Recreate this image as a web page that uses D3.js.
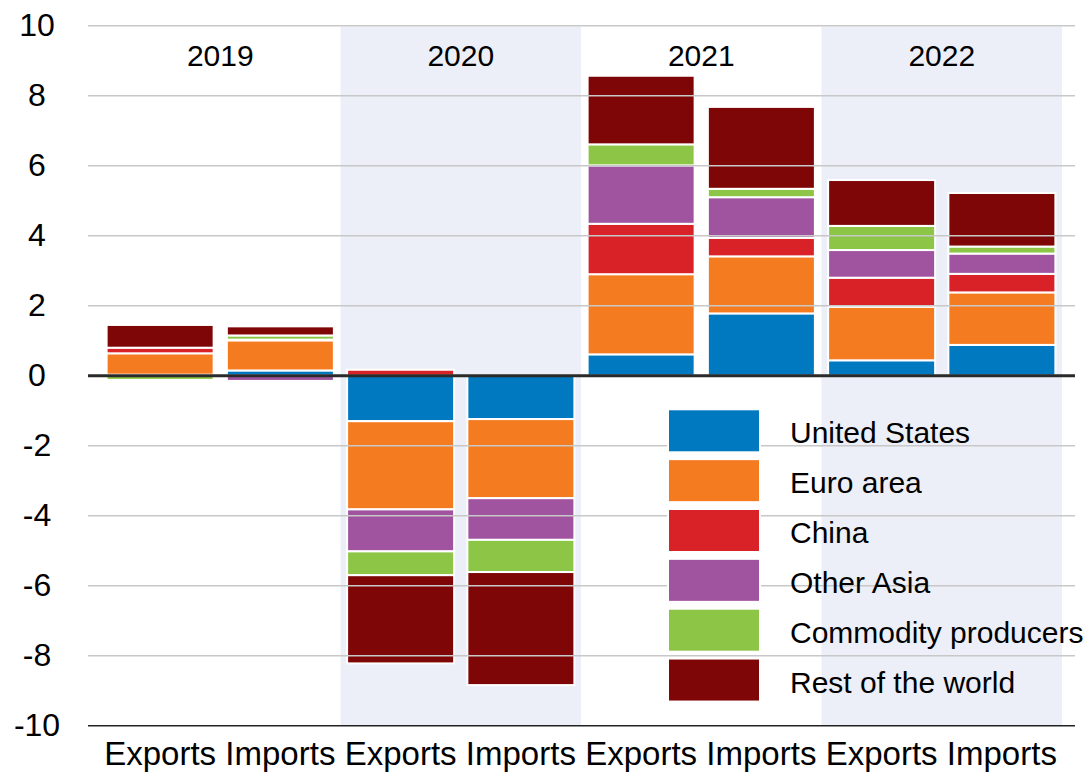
<!DOCTYPE html>
<html>
<head>
<meta charset="utf-8">
<script src="https://cdn.jsdelivr.net/npm/d3@7"></script>
<style>
  html, body { margin: 0; padding: 0; background: #fff; }
  svg { display: block; font-family: "Liberation Sans", Arial, sans-serif; }
</style>
</head>
<body>
<svg id="chart" width="1089" height="773"></svg>
<script>
// ---- data ----
const years = ["2019", "2020", "2021", "2022"];
const flows = ["Exports", "Imports"];
const seriesNames = ["United States", "Euro area", "China", "Other Asia", "Commodity producers", "Rest of the world"];
const seriesColors = ["#0079C1", "#F47B20", "#D92128", "#A0539E", "#8DC646", "#7E0606"];
// order of bars: 2019 Exp, 2019 Imp, 2020 Exp, 2020 Imp, 2021 Exp, 2021 Imp, 2022 Exp, 2022 Imp
const unitedStates = [0.03, 0.15, -1.30, -1.24, 0.61, 1.78, 0.44, 0.88];
const euroArea     = [0.61, 0.86, -2.52, -2.26, 2.29, 1.63, 1.53, 1.50];
const china        = [0.16, 0.02, 0.17, 0.00, 1.44, 0.53, 0.83, 0.53];
const otherAsia    = [0.00, -0.15, -1.20, -1.19, 1.67, 1.16, 0.79, 0.58];
const commodity    = [-0.12, 0.12, -0.68, -0.92, 0.60, 0.24, 0.69, 0.20];
const restOfWorld  = [0.65, 0.26, -2.52, -3.23, 1.96, 2.34, 1.31, 1.53];
const yTicks = [10, 8, 6, 4, 2, 0, -2, -4, -6, -8, -10];

// ---- build table ----
const seriesValues = [unitedStates, euroArea, china, otherAsia, commodity, restOfWorld];
const barKeys = [];
years.forEach(y => flows.forEach(f => barKeys.push(y + "|" + f)));
const table = barKeys.map((k, i) => {
  const row = { key: k };
  seriesNames.forEach((s, j) => row[s] = seriesValues[j][i]);
  return row;
});

const svg = d3.select("#chart");
const plotLeft = 100, plotRight = 1062;
const gridLeft = 88, gridRight = 1075;

const x = d3.scaleBand().domain(barKeys).range([plotLeft, plotRight])
  .paddingInner(0.11).paddingOuter(0.055);
const xYear = d3.scaleBand().domain(years).range([plotLeft, plotRight]);
const y = d3.scaleLinear().domain([-10, 10]).range([725.7, 25.7]);
const color = d3.scaleOrdinal().domain(seriesNames).range(seriesColors);

// shaded year bands (2020, 2022)
svg.append("g").selectAll("rect")
  .data(years.filter((d, i) => i % 2 === 1))
  .join("rect")
  .attr("x", d => xYear(d))
  .attr("width", xYear.bandwidth())
  .attr("y", y(10) + 1)
  .attr("height", y(-10) - y(10) - 1)
  .attr("fill", "#ECEFF7");

// stacked bars
const stack = d3.stack().keys(seriesNames).offset(d3.stackOffsetDiverging);
const stacked = stack(table);
svg.append("g").selectAll("g")
  .data(stacked)
  .join("g")
  .attr("fill", d => color(d.key))
  .selectAll("rect")
  .data(d => d.filter(p => p[1] - p[0] !== 0))
  .join("rect")
  .attr("x", d => x(d.data.key))
  .attr("width", x.bandwidth())
  .attr("y", d => y(Math.max(d[0], d[1])))
  .attr("height", d => Math.abs(y(d[0]) - y(d[1])))
  .attr("stroke", "#fff")
  .attr("stroke-width", 2);

// gridlines (drawn over bars)
svg.append("g").selectAll("line")
  .data(yTicks.filter(t => t !== 0 && t !== -10))
  .join("line")
  .attr("x1", gridLeft).attr("x2", gridRight)
  .attr("y1", d => y(d)).attr("y2", d => y(d))
  .attr("stroke", "#c8c8c8").attr("stroke-width", 1.5);

// bottom axis line
svg.append("line")
  .attr("x1", gridLeft).attr("x2", gridRight)
  .attr("y1", y(-10)).attr("y2", y(-10))
  .attr("stroke", "#222").attr("stroke-width", 1.5);

// zero line
svg.append("line")
  .attr("x1", gridLeft).attr("x2", gridRight)
  .attr("y1", y(0)).attr("y2", y(0))
  .attr("stroke", "#2a2a2a").attr("stroke-width", 3);

// y tick labels (plain hyphen minus, as in the reference)
const yAxis = d3.axisLeft(y).tickValues(yTicks).tickSize(0).tickPadding(0)
  .tickFormat(d => String(d));
const gy = svg.append("g").attr("transform", "translate(37,0)").call(yAxis);
gy.select(".domain").remove();
gy.selectAll("text")
  .attr("text-anchor", "middle")
  .attr("x", 0)
  .attr("font-family", "'Liberation Sans', Arial, sans-serif")
  .attr("font-size", 32)
  .attr("fill", "#000");

// x labels
const xAxis = d3.axisBottom(x).tickSize(0).tickFormat(d => d.split("|")[1]);
const gx = svg.append("g").attr("transform", "translate(0,739)").call(xAxis);
gx.select(".domain").remove();
gx.selectAll("text")
  .attr("font-family", "'Liberation Sans', Arial, sans-serif")
  .attr("font-size", 33)
  .attr("fill", "#000");

// year labels
svg.append("g").selectAll("text")
  .data(years)
  .join("text")
  .attr("x", d => xYear(d) + xYear.bandwidth() / 2)
  .attr("y", 66)
  .attr("text-anchor", "middle")
  .attr("font-size", 30)
  .attr("fill", "#000")
  .text(d => d);

// legend
const legend = svg.append("g").selectAll("g")
  .data(seriesNames)
  .join("g")
  .attr("transform", (d, i) => `translate(668, ${409.3 + 49.85 * i})`);
legend.append("rect")
  .attr("width", 92).attr("height", 43)
  .attr("fill", d => color(d))
  .attr("stroke", "#fff").attr("stroke-width", 2);
legend.append("text")
  .attr("x", 122).attr("y", 34)
  .attr("font-size", 30)
  .attr("fill", "#000")
  .text(d => d);
</script>
</body>
</html>
